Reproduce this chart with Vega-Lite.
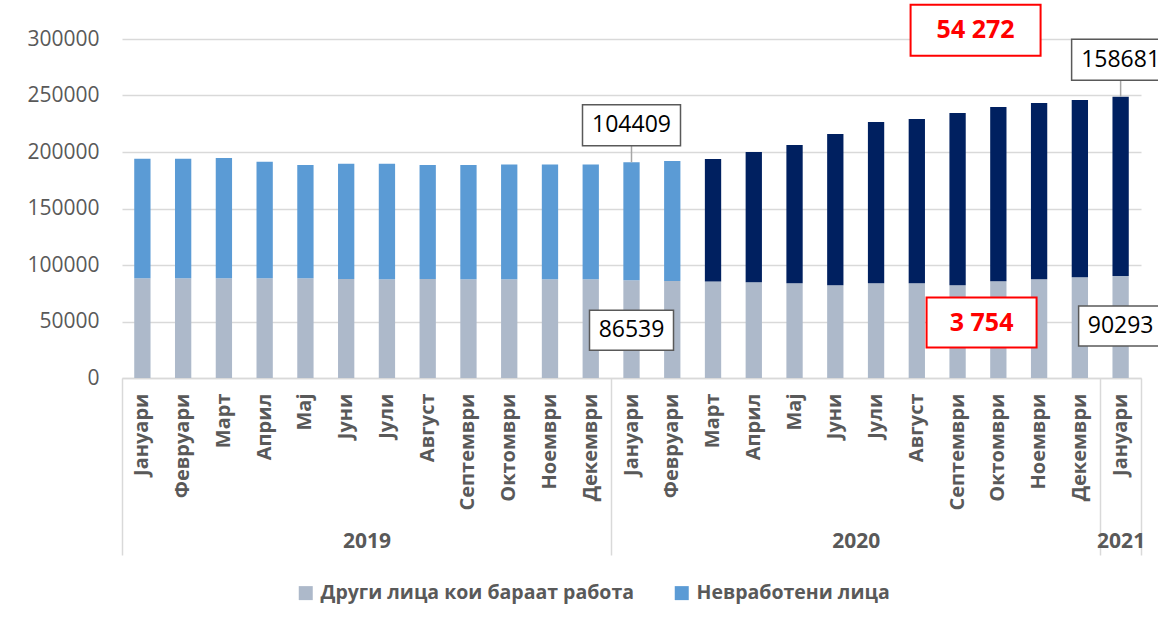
{
  "$schema": "https://vega.github.io/schema/vega-lite/v6.json",
  "width": 1019,
  "height": 339,
  "autosize": "none",
  "padding": {"left": 122, "top": 39, "right": 17, "bottom": 249},
  "background": "white",
  "config": {
    "view": {"stroke": null},
    "font": "Open Sans",
    "axis": {"labelFont": "Open Sans", "labelColor": "#595959", "titleFont": "Open Sans"}
  },
  "datasets": {
    "main": [
      {"m": "2019-01", "series": "Други лица кои бараат работа", "value": 88290},
      {"m": "2019-01", "series": "Невработени лица", "value": 105710},
      {"m": "2019-02", "series": "Други лица кои бараат работа", "value": 88290},
      {"m": "2019-02", "series": "Невработени лица", "value": 105710},
      {"m": "2019-03", "series": "Други лица кои бараат работа", "value": 88290},
      {"m": "2019-03", "series": "Невработени лица", "value": 106300},
      {"m": "2019-04", "series": "Други лица кои бараат работа", "value": 88290},
      {"m": "2019-04", "series": "Невработени лица", "value": 103050},
      {"m": "2019-05", "series": "Други лица кои бараат работа", "value": 88290},
      {"m": "2019-05", "series": "Невработени лица", "value": 100100},
      {"m": "2019-06", "series": "Други лица кои бараат работа", "value": 87700},
      {"m": "2019-06", "series": "Невработени лица", "value": 101870},
      {"m": "2019-07", "series": "Други лица кои бараат работа", "value": 87400},
      {"m": "2019-07", "series": "Невработени лица", "value": 102170},
      {"m": "2019-08", "series": "Други лица кои бараат работа", "value": 87700},
      {"m": "2019-08", "series": "Невработени лица", "value": 100690},
      {"m": "2019-09", "series": "Други лица кои бараат работа", "value": 87400},
      {"m": "2019-09", "series": "Невработени лица", "value": 100990},
      {"m": "2019-10", "series": "Други лица кои бараат работа", "value": 87400},
      {"m": "2019-10", "series": "Невработени лица", "value": 101580},
      {"m": "2019-11", "series": "Други лица кои бараат работа", "value": 87400},
      {"m": "2019-11", "series": "Невработени лица", "value": 101580},
      {"m": "2019-12", "series": "Други лица кои бараат работа", "value": 87400},
      {"m": "2019-12", "series": "Невработени лица", "value": 101580},
      {"m": "2020-01", "series": "Други лица кои бараат работа", "value": 86539},
      {"m": "2020-01", "series": "Невработени лица", "value": 104409},
      {"m": "2020-02", "series": "Други лица кои бараат работа", "value": 85930},
      {"m": "2020-02", "series": "Невработени лица", "value": 106000},
      {"m": "2020-03", "series": "Други лица кои бараат работа", "value": 85340},
      {"m": "2020-03", "series": "Невработени лица", "value": 108360},
      {"m": "2020-04", "series": "Други лица кои бараат работа", "value": 84750},
      {"m": "2020-04", "series": "Невработени лица", "value": 115150},
      {"m": "2020-05", "series": "Други лица кои бараат работа", "value": 83860},
      {"m": "2020-05", "series": "Невработени лица", "value": 122240},
      {"m": "2020-06", "series": "Други лица кои бараат работа", "value": 82090},
      {"m": "2020-06", "series": "Невработени лица", "value": 133760},
      {"m": "2020-07", "series": "Други лица кои бараат работа", "value": 83860},
      {"m": "2020-07", "series": "Невработени лица", "value": 142620},
      {"m": "2020-08", "series": "Други лица кои бараат работа", "value": 83860},
      {"m": "2020-08", "series": "Невработени лица", "value": 145280},
      {"m": "2020-09", "series": "Други лица кои бараат работа", "value": 82090},
      {"m": "2020-09", "series": "Невработени лица", "value": 152360},
      {"m": "2020-10", "series": "Други лица кои бараат работа", "value": 85630},
      {"m": "2020-10", "series": "Невработени лица", "value": 154140},
      {"m": "2020-11", "series": "Други лица кои бараат работа", "value": 87400},
      {"m": "2020-11", "series": "Невработени лица", "value": 155910},
      {"m": "2020-12", "series": "Други лица кои бараат работа", "value": 89170},
      {"m": "2020-12", "series": "Невработени лица", "value": 156800},
      {"m": "2021-01", "series": "Други лица кои бараат работа", "value": 90293},
      {"m": "2021-01", "series": "Невработени лица", "value": 158681}
    ]
  },
  "data": {"name": "main"},
  "transform": [
    {"stack": "value", "groupby": ["m"], "sort": [{"field": "series", "order": "ascending"}], "as": ["v0", "v1"]}
  ],
  "resolve": {"scale": {"x": "shared", "y": "shared"}, "axis": {"x": "independent"}},
  "layer": [
    {
      "mark": {"type": "bar"},
      "encoding": {
        "x": {
          "field": "m", "type": "ordinal",
          "scale": {"paddingInner": 0.6, "paddingOuter": 0.3},
          "axis": {
            "orient": "bottom", "title": null, "labelAngle": -90,
            "labelExpr": "['Јануари','Февруари','Март','Април','Мај','Јуни','Јули','Август','Септември','Октомври','Ноември','Декември'][toNumber(slice(datum.value, 5)) - 1]",
            "labelFontWeight": "bold", "labelFontSize": 20, "labelPadding": 15,
            "ticks": false, "tickSize": 0, "domain": true, "domainColor": "#d9d9d9", "domainWidth": 1.5, "grid": false
          }
        },
        "y": {
          "field": "v1", "type": "quantitative",
          "scale": {"domain": [0, 300000], "nice": false},
          "axis": {
            "title": null, "values": [0, 50000, 100000, 150000, 200000, 250000, 300000], "format": "d",
            "labelFontSize": 21, "labelPadding": 23, "ticks": false, "tickSize": 0, "domain": false,
            "grid": true, "gridColor": "#d9d9d9", "gridWidth": 1.5
          }
        },
        "y2": {"field": "v0"},
        "color": {
          "field": "series", "type": "nominal",
          "scale": {"domain": ["Други лица кои бараат работа", "Невработени лица"], "range": ["#ADB9CA", "#5B9BD5"]},
          "condition": {"test": "datum.series === 'Невработени лица' && datum.m >= '2020-03'", "value": "#002060"},
          "legend": {
            "title": null, "orient": "none", "legendX": 174, "legendY": 544, "direction": "horizontal",
            "symbolType": "square", "symbolSize": 196, "symbolStrokeWidth": 0,
            "labelFont": "Open Sans", "labelFontWeight": "bold", "labelFontSize": 19.5, "labelColor": "#595959",
            "labelOffset": 5, "columnPadding": 38, "labelLimit": 500, "padding": 0
          }
        }
      }
    },
    {
      "transform": [{"filter": "datum.series === 'Невработени лица' && (datum.m === '2020-01' || datum.m === '2021-01')"}],
      "mark": {"type": "rule", "color": "#a6a6a6", "strokeWidth": 1.5, "y2Offset": -16.5},
      "encoding": {
        "x": {"field": "m", "type": "ordinal", "axis": null},
        "y": {"field": "v1", "type": "quantitative"},
        "y2": {"field": "v1"}
      }
    },
    {
      "transform": [{"filter": "datum.series === 'Невработени лица' && (datum.m === '2020-01' || datum.m === '2021-01')"}],
      "mark": {"type": "point", "shape": "M-1,-0.418L1,-0.418L1,0.418L-1,0.418Z", "size": 9604, "filled": true, "fill": "white", "stroke": "#595959", "strokeWidth": 1.5, "opacity": 1, "yOffset": -37},
      "encoding": {
        "x": {
          "field": "m", "type": "ordinal",
          "axis": {
            "orient": "bottom", "title": null, "values": ["2019-01", "2020-01", "2021-01"], "bandPosition": 0.5, "tickOffset": -20.4,
            "labels": false, "ticks": true, "tickSize": 177, "tickColor": "#d9d9d9", "tickWidth": 1.5,
            "domain": false, "grid": false
          }
        },
        "y": {"field": "v1", "type": "quantitative"}
      }
    },
    {
      "transform": [{"filter": "datum.series === 'Невработени лица' && (datum.m === '2020-01' || datum.m === '2021-01')"}],
      "mark": {"type": "text", "fontSize": 23, "color": "#000000", "align": "center", "baseline": "middle", "dy": -37},
      "encoding": {
        "x": {
          "field": "m", "type": "ordinal",
          "axis": {
            "orient": "bottom", "title": null, "values": ["2019-07", "2020-07"], "bandPosition": 0.5, "tickOffset": -20.4,
            "labelExpr": "slice(datum.value, 0, 4)", "labelAngle": 0, "labelFontWeight": "bold", "labelFontSize": 21,
            "labelPadding": 152, "ticks": false, "tickSize": 0, "domain": false, "grid": false
          }
        },
        "y": {"field": "v1", "type": "quantitative"},
        "text": {"field": "value", "type": "quantitative", "format": "d"}
      }
    },
    {
      "transform": [{"filter": "datum.series === 'Други лица кои бараат работа' && (datum.m === '2020-01' || datum.m === '2021-01')"}],
      "mark": {"type": "point", "shape": "M-1,-0.476L1,-0.476L1,0.476L-1,0.476Z", "size": 7056, "filled": true, "fill": "white", "stroke": "#595959", "strokeWidth": 1.5, "opacity": 1, "yOffset": 50},
      "encoding": {
        "x": {
          "field": "m", "type": "ordinal",
          "axis": {
            "orient": "bottom", "title": null, "values": ["2021-01"], "bandPosition": 0.5, "tickOffset": 20.4,
            "labelExpr": "'2021'", "labelAngle": 0, "labelFontWeight": "bold", "labelFontSize": 21,
            "labelOffset": -20.4, "labelPadding": -25,
            "ticks": true, "tickSize": 177, "tickColor": "#d9d9d9", "tickWidth": 1.5, "domain": false, "grid": false
          }
        },
        "y": {"field": "v1", "type": "quantitative"}
      }
    },
    {
      "transform": [{"filter": "datum.series === 'Други лица кои бараат работа' && (datum.m === '2020-01' || datum.m === '2021-01')"}],
      "mark": {"type": "text", "fontSize": 23, "color": "#000000", "align": "center", "baseline": "middle", "dy": 50},
      "encoding": {
        "x": {"field": "m", "type": "ordinal", "axis": null},
        "y": {"field": "v1", "type": "quantitative"},
        "text": {"field": "value", "type": "quantitative", "format": "d"}
      }
    },
    {
      "data": {"values": [{"m": "2020-09", "label": "54 272"}]},
      "mark": {"type": "point", "shape": "M-1,-0.392L1,-0.392L1,0.392L-1,0.392Z", "size": 16900, "filled": true, "fill": "white", "stroke": "#FF0000", "strokeWidth": 2, "opacity": 1, "xOffset": 18},
      "encoding": {
        "x": {"field": "m", "type": "ordinal", "axis": null},
        "y": {"datum": 307700, "type": "quantitative"}
      }
    },
    {
      "data": {"values": [{"m": "2020-09", "label": "54 272"}]},
      "mark": {"type": "text", "fontSize": 25, "fontWeight": "bold", "color": "#FF0000", "align": "center", "baseline": "middle", "dx": 18},
      "encoding": {
        "x": {"field": "m", "type": "ordinal", "axis": null},
        "y": {"datum": 307700, "type": "quantitative"},
        "text": {"field": "label", "type": "nominal"}
      }
    },
    {
      "data": {"values": [{"m": "2020-09", "label": "3 754"}]},
      "mark": {"type": "point", "shape": "M-1,-0.4545L1,-0.4545L1,0.4545L-1,0.4545Z", "size": 12100, "filled": true, "fill": "white", "stroke": "#FF0000", "strokeWidth": 2, "opacity": 1, "xOffset": 24},
      "encoding": {
        "x": {"field": "m", "type": "ordinal", "axis": null},
        "y": {"datum": 49100, "type": "quantitative"}
      }
    },
    {
      "data": {"values": [{"m": "2020-09", "label": "3 754"}]},
      "mark": {"type": "text", "fontSize": 25, "fontWeight": "bold", "color": "#FF0000", "align": "center", "baseline": "middle", "dx": 24},
      "encoding": {
        "x": {"field": "m", "type": "ordinal", "axis": null},
        "y": {"datum": 49100, "type": "quantitative"},
        "text": {"field": "label", "type": "nominal"}
      }
    }
  ]
}
